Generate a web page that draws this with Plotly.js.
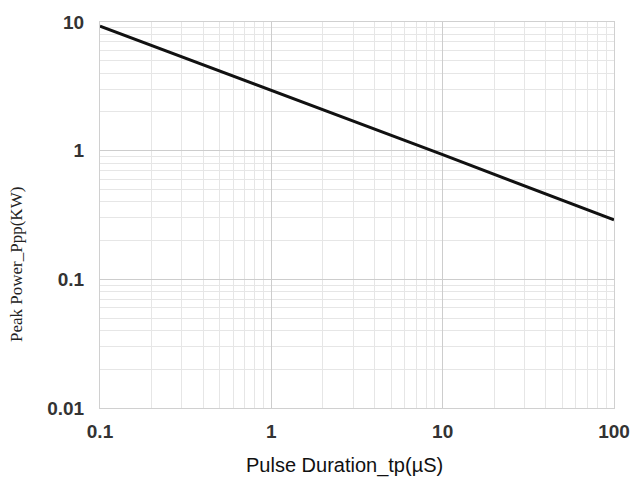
<!DOCTYPE html>
<html><head><meta charset="utf-8">
<script src="https://cdn.plot.ly/plotly-3.0.1.min.js"></script>
<style>html,body{margin:0;padding:0;background:#fff}#c{width:632px;height:484px}</style>
</head><body><div id="c"></div>
<script>
const pulseDuration = [0.1, 1, 10, 100];
const peakPower = [9.3, 2.95, 0.93, 0.29];
const xTicks = [0.1, 1, 10, 100];
const xTickText = ['0.1', '1', '10', '100'];
const yTicks = [0.01, 0.1, 1, 10];
const yTickText = ['0.01', '0.1', '1', '10'];
const xTitle = 'Pulse Duration_tp(µS)';
const yTitle = 'Peak Power_Ppp(KW)';

const plotL = 100, plotR = 614, plotT = 22, plotB = 408;
const W = 632, H = 484;
const pw = plotR - plotL, ph = plotB - plotT;
const tickFont = {family: 'Liberation Sans, Arial', size: 19, color: '#333', weight: 'bold'};

Plotly.newPlot('c', [{
  x: pulseDuration, y: peakPower, type: 'scatter', mode: 'lines',
  line: {color: '#111', width: 3}, hoverinfo: 'none'
}], {
  width: W, height: H,
  margin: {l: plotL, r: W - plotR, t: plotT, b: H - plotB},
  paper_bgcolor: '#fff', plot_bgcolor: '#fff',
  showlegend: false,
  xaxis: {
    type: 'log', range: [-1, 2],
    tickvals: xTicks, ticktext: xTickText, tickfont: tickFont,
    showgrid: true, gridcolor: '#cdcdcd', gridwidth: 1,
    minor: {tickvals: [0.2,0.3,0.4,0.5,0.6,0.7,0.8,0.9,2,3,4,5,6,7,8,9,20,30,40,50,60,70,80,90], showgrid: true, gridcolor: '#e6e6e6', gridwidth: 1},
    showline: true, linecolor: '#d0d0d0', mirror: true,
    ticks: 'outside', ticklen: 6, tickcolor: 'rgba(0,0,0,0)', zeroline: false
  },
  yaxis: {
    type: 'log', range: [-2, 1],
    tickvals: yTicks, ticktext: yTickText, tickfont: tickFont,
    showgrid: true, gridcolor: '#cdcdcd', gridwidth: 1,
    minor: {tickvals: [0.02,0.03,0.04,0.05,0.06,0.07,0.08,0.09,0.2,0.3,0.4,0.5,0.6,0.7,0.8,0.9,2,3,4,5,6,7,8,9], showgrid: true, gridcolor: '#e6e6e6', gridwidth: 1},
    showline: true, linecolor: '#d0d0d0', mirror: true,
    ticks: 'outside', ticklen: 11, tickcolor: 'rgba(0,0,0,0)', zeroline: false
  },
  annotations: [
    {text: xTitle, xref: 'paper', yref: 'paper', x: (344 - plotL) / pw, y: (plotB - 465) / ph,
     xanchor: 'center', yanchor: 'middle', showarrow: false,
     font: {family: 'Liberation Sans, Arial', size: 20, color: '#111'}},
    {text: yTitle, xref: 'paper', yref: 'paper', x: (16 - plotL) / pw, y: (plotB - 265) / ph,
     xanchor: 'center', yanchor: 'middle', showarrow: false, textangle: -90,
     font: {family: 'Liberation Serif, serif', size: 17, color: '#222'}}
  ]
}, {staticPlot: true});
</script></body></html>
